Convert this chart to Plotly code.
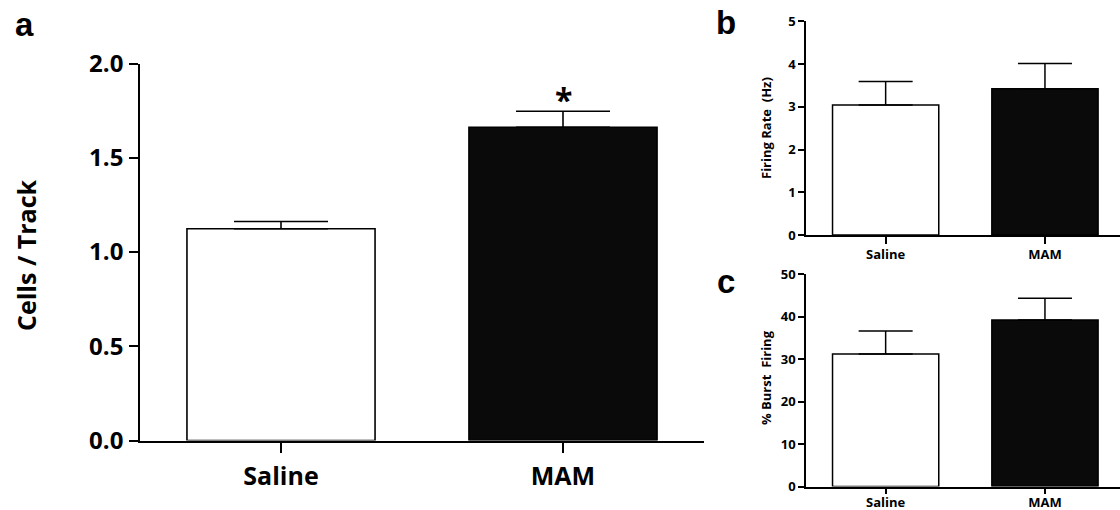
import plotly.graph_objects as go

categories = ["Saline", "MAM"]

# Panel a: Cells / Track
cells_mean = [1.123, 1.662]
cells_sem = [0.039, 0.085]
cells_ticks = [0.0, 0.5, 1.0, 1.5, 2.0]
cells_ticklabels = ["0.0", "0.5", "1.0", "1.5", "2.0"]

# Panel b: Firing rate (Hz)
rate_mean = [3.04, 3.42]
rate_sem = [0.55, 0.59]
rate_ticks = [0, 1, 2, 3, 4, 5]

# Panel c: % Burst firing
burst_mean = [31.2, 39.2]
burst_sem = [5.4, 5.1]
burst_ticks = [0, 10, 20, 30, 40, 50]

bar_fill = ["white", "#0a0a0a"]
FONT = "Open Sans"

W, H = 1120, 510


def px_x(p):
    return p / W


def px_y(p):
    return 1 - p / H


fig = go.Figure()


def add_bars(vals, errs, xa, ya, cap, lw):
    fig.add_trace(go.Bar(
        x=categories, y=vals, xaxis=xa, yaxis=ya,
        width=0.667,
        marker=dict(color=bar_fill, line=dict(color="black", width=lw)),
        error_y=dict(type="data", symmetric=False, array=errs,
                     arrayminus=[0, 0], color="black", thickness=lw,
                     width=cap),
        showlegend=False, hoverinfo="skip",
    ))


add_bars(cells_mean, cells_sem, "x", "y", 47, 1.6)
add_bars(rate_mean, rate_sem, "x2", "y2", 27, 1.5)
add_bars(burst_mean, burst_sem, "x3", "y3", 27, 1.5)

axis_common = dict(showgrid=False, zeroline=False, showline=True, automargin=False,
                   linecolor="black", ticks="outside", tickcolor="black")

big = dict(family=FONT, size=24, color="black", weight="bold")
small = dict(family=FONT, size=13, color="black", weight="bold")

fig.update_layout(
    template="none",
    xaxis=dict(domain=[px_x(140), px_x(704)], range=[-0.5, 1.5],
               anchor="y", linewidth=1.6, tickwidth=1.6, ticklen=11,
               tickfont=dict(big, size=25), ticklabelstandoff=2,
               **axis_common),
    yaxis=dict(domain=[px_y(440.5), px_y(63.5)], range=[0, 2],
               anchor="x", tickvals=cells_ticks, ticktext=cells_ticklabels,
               linewidth=1.6, tickwidth=1.6, ticklen=9,
               tickfont=big, ticklabelstandoff=1,
               **axis_common),
    xaxis2=dict(domain=[px_x(806), 1.0], range=[-0.5, 1.471],
                anchor="y2", linewidth=1.5, tickwidth=1.5, ticklen=7,
                tickfont=small, **axis_common),
    yaxis2=dict(domain=[px_y(235), px_y(21.3)], range=[0, 5],
                anchor="x2", tickvals=rate_ticks,
                linewidth=1.5, tickwidth=1.5, ticklen=6,
                tickfont=small, **axis_common),
    xaxis3=dict(domain=[px_x(806), 1.0], range=[-0.5, 1.471],
                anchor="y3", linewidth=1.5, tickwidth=1.5, ticklen=6,
                tickfont=small, ticklabelstandoff=-3, **axis_common),
    yaxis3=dict(domain=[px_y(486.5), px_y(274)], range=[0, 50],
                anchor="x3", tickvals=burst_ticks,
                linewidth=1.5, tickwidth=1.5, ticklen=6,
                tickfont=small, **axis_common),
)

letter_font = dict(family="Liberation Sans", size=33, color="black", weight="bold")
annotations = [
    # panel letters
    dict(text="a", x=px_x(24), y=px_y(24), font=letter_font),
    dict(text="b", x=px_x(726), y=px_y(23), font=letter_font),
    dict(text="c", x=px_x(726), y=px_y(281), font=letter_font),
    # y titles
    dict(text="Cells / Track", x=px_x(26), y=px_y(256), textangle=-90,
         font=dict(family=FONT, size=25, color="black", weight="bold")),
    dict(text="Firing Rate\u00a0\u00a0(Hz)", x=px_x(766), y=px_y(128), textangle=-90,
         font=dict(family=FONT, size=13, color="black", weight="bold")),
    dict(text="%\u00a0Burst\u00a0\u00a0Firing", x=px_x(766), y=px_y(378), textangle=-90,
         font=dict(family=FONT, size=13, color="black", weight="bold")),
]
for a in annotations:
    a.update(xref="paper", yref="paper", showarrow=False,
             xanchor="center", yanchor="middle")

# significance asterisk above MAM bar in panel a
annotations.append(dict(text="*", x="MAM", y=cells_mean[1] + cells_sem[1] + 0.064,
                        xref="x", yref="y", showarrow=False, yanchor="middle",
                        font=dict(family=FONT, size=32, color="black", weight="bold")))

fig.update_layout(
    width=W, height=H,
    margin=dict(l=0, r=0, t=0, b=0, pad=0),
    paper_bgcolor="white", plot_bgcolor="white",
    annotations=annotations,
)

fig.write_html("out.html", config={"displayModeBar": False},
               post_script="document.body.style.margin='0';")
